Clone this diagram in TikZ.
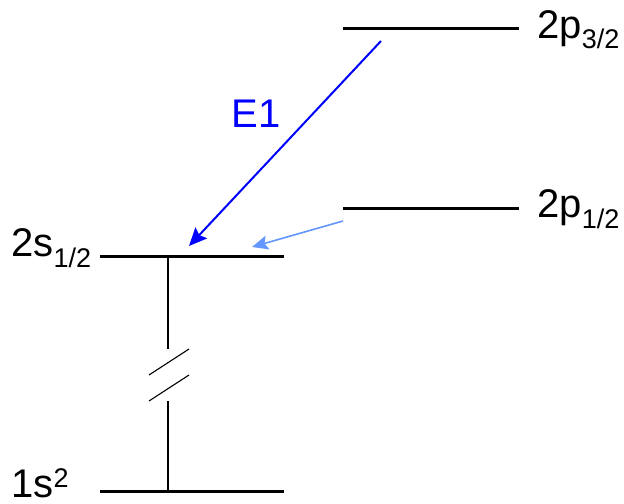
\documentclass[tikz,border=0pt]{standalone}
\usepackage{fontspec}
\setmainfont{Liberation Sans}
\usetikzlibrary{arrows.meta}
\definecolor{e1blue}{RGB}{0,0,255}
\definecolor{m1blue}{RGB}{100,150,255}
\newcommand{\lvsub}[1]{\raisebox{-5.5pt}{\fontsize{13.5pt}{13.5pt}\selectfont #1}}
\newcommand{\lvsup}[1]{\raisebox{5pt}{\fontsize{13.5pt}{13.5pt}\selectfont #1}}

\begin{document}
\begin{tikzpicture}[
  x=0.5pt, y=-0.5pt,
  level/.style={line width=1.5pt, line cap=butt},
  thin/.style={line width=0.55pt},
  e1arrow/.style={e1blue, line width=1pt, -{Stealth[length=9pt, width=8pt, inset=1.5pt]}},
  m1arrow/.style={m1blue, line width=0.8pt, -{Stealth[length=8pt, width=7pt, inset=1.5pt]}},
  every node/.style={inner sep=0pt, font=\fontsize{20pt}{20pt}\selectfont}
]
  \useasboundingbox (0,0) rectangle (624,503);
  % ---- levels ----
  \coordinate (p3L) at (343,28);  \coordinate (p3R) at (519,28);
  \coordinate (p1L) at (343,208); \coordinate (p1R) at (519,208);
  \coordinate (sL)  at (100,256); \coordinate (sR)  at (284,256);
  \coordinate (gL)  at (100,491); \coordinate (gR)  at (284,491);
  \draw[level] (p3L) -- (p3R);
  \draw[level] (p1L) -- (p1R);
  \draw[level] (sL) -- (sR);
  \draw[level] (gL) -- (gR);
  % ---- broken vertical axis ----
  \coordinate (vTop) at (168,257);
  \coordinate (vA)   at (168,349);
  \coordinate (vB)   at (168,401);
  \coordinate (vBot) at (168,491);
  \draw[thin] (vTop) -- (vA);
  \draw[thin] (vB) -- (vBot);
  \draw[thin] (149,375) -- (189,349);
  \draw[thin] (149,401) -- (189,375);
  % ---- transitions ----
  \coordinate (e1from) at (381,41);
  \coordinate (e1to)   at (189,246);
  \coordinate (m1from) at (343,221);
  \coordinate (m1to)   at (252,247);
  \draw[e1arrow] (e1from) -- (e1to);
  \draw[m1arrow] (m1from) -- (m1to);
  \node[e1blue, anchor=base west] (e1) at (231,127) {E1};
  % ---- labels ----
  \node[anchor=base west] (lp3) at (537,38)  {2p\lvsub{3/2}};
  \node[anchor=base west] (lp1) at (537,217) {2p\lvsub{1/2}};
  \node[anchor=base west] (ls)  at (11,256)  {2s\lvsub{1/2}};
  \node[anchor=base west] (lg)  at (11,497)  {1s\lvsup{2}};
\end{tikzpicture}
\end{document}
